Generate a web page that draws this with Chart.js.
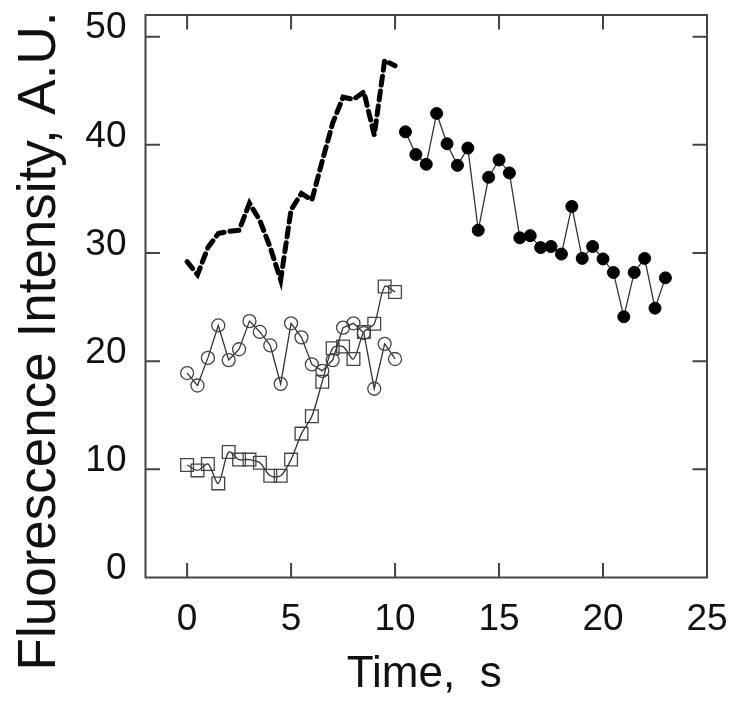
<!DOCTYPE html>
<html>
<head>
<meta charset="utf-8">
<script src="https://cdn.jsdelivr.net/npm/chart.js@4"></script>
<style>
  html, body { margin: 0; padding: 0; background: #fff; }
  #wrap { width: 734px; height: 703px; }
</style>
</head>
<body>
<div id="wrap"><canvas id="grafico"></canvas></div>
<script>
// Tiempos (s)
const timeA = [0, 0.5, 1, 1.5, 2, 2.5, 3, 3.5, 4, 4.5, 5, 5.5, 6, 6.5, 7, 7.5, 8, 8.5, 9, 9.5, 10];
const timeB = [10.5, 11, 11.5, 12, 12.5, 13, 13.5, 14, 14.5, 15, 15.5, 16, 16.5, 17, 17.5, 18, 18.5, 19, 19.5, 20, 20.5, 21, 21.5, 22, 22.5, 23];

// Series de intensidad
const dashedValues = [29.2, 28.0, 30.5, 31.8, 32.0, 32.1, 34.6, 33.0, 30.5, 27.5, 34.0, 35.5, 34.9, 38.5, 42.0, 44.4, 44.2, 44.9, 40.9, 47.8, 47.3];
const filledValues = [41.2, 39.1, 38.2, 42.9, 40.1, 38.1, 39.7, 32.1, 37.0, 38.6, 37.4, 31.4, 31.6, 30.5, 30.6, 29.9, 34.3, 29.5, 30.6, 29.45, 28.2, 24.1, 28.2, 29.5, 24.9, 27.7];
const circleValues = [18.9, 17.75, 20.3, 23.3, 20.1, 21.1, 23.7, 22.7, 21.45, 17.9, 23.5, 22.2, 19.7, 19.1, 20.1, 23.1, 23.5, 22.6, 17.45, 21.6, 20.2];
const squareValues = [10.4, 9.9, 10.5, 8.7, 11.6, 10.9, 10.9, 10.6, 9.4, 9.4, 10.9, 13.3, 14.9, 18.1, 21.2, 21.35, 20.2, 22.7, 23.45, 26.9, 26.4];

// Ticks y títulos
const xTicks = [0, 5, 10, 15, 20, 25];
const yTicks = [0, 10, 20, 30, 40, 50];
const xTitle = "Time,  s";
const yTitle = "Fluorescence Intensity, A.U.";

function toPoints(xs, ys) {
    return xs.map((x, i) => ({ x: x, y: ys[i] }));
}

const font = "'Liberation Sans', Arial, sans-serif";

// Marco con marcas hacia dentro en los cuatro lados, y títulos de ejes
const framePlugin = {
    id: "frameTicks",
    afterDraw(chart) {
        const ctx = chart.ctx;
        const a = chart.chartArea;
        const xs = chart.scales.x, ys = chart.scales.y;
        const len = 14.5;
        ctx.save();
        ctx.strokeStyle = "#444";
        ctx.lineWidth = 2;
        ctx.strokeRect(a.left, a.top, a.right - a.left, a.bottom - a.top);
        ctx.beginPath();
        xTicks.forEach(v => {
            const px = xs.getPixelForValue(v);
            if (px >= a.right - 1) return;
            ctx.moveTo(px, a.bottom); ctx.lineTo(px, a.bottom - len);
            ctx.moveTo(px, a.top); ctx.lineTo(px, a.top + len);
        });
        yTicks.forEach(v => {
            const py = ys.getPixelForValue(v);
            if (py >= a.bottom - 1) return;
            ctx.moveTo(a.left, py); ctx.lineTo(a.left + len, py);
            ctx.moveTo(a.right, py); ctx.lineTo(a.right - len, py);
        });
        ctx.stroke();

        // Títulos
        ctx.fillStyle = "#111";
        ctx.textAlign = "center";
        ctx.textBaseline = "alphabetic";
        ctx.font = "44px " + font;
        ctx.fillText(xTitle, (a.left + a.right) / 2 - 2, 687);
        ctx.translate(55, 341);
        ctx.rotate(-Math.PI / 2);
        ctx.font = "53px " + font;
        ctx.fillText(yTitle, 0, 0);
        ctx.restore();
    }
};

new Chart(document.getElementById("grafico"), {
    type: "scatter",
    data: {
        datasets: [
            {
                label: "dashed",
                data: toPoints(timeA, dashedValues),
                showLine: true,
                borderColor: "#000",
                borderWidth: 5,
                borderDash: [9, 6],
                borderCapStyle: "round",
                pointRadius: 0
            },
            {
                label: "filled",
                data: toPoints(timeB, filledValues),
                showLine: true,
                borderColor: "#333",
                borderWidth: 1.3,
                pointRadius: 6,
                pointBackgroundColor: "#000",
                pointBorderColor: "#000",
                pointBorderWidth: 1
            },
            {
                label: "circles",
                data: toPoints(timeA, circleValues),
                showLine: true,
                borderColor: "#333",
                borderWidth: 1.3,
                pointStyle: "circle",
                pointRadius: 6.5,
                pointBackgroundColor: "rgba(0,0,0,0)",
                pointBorderColor: "#444",
                pointBorderWidth: 1.3
            },
            {
                label: "squares",
                data: toPoints(timeA, squareValues),
                showLine: true,
                tension: 0.3,
                borderColor: "#333",
                borderWidth: 1.3,
                pointStyle: "rect",
                pointRadius: 9,
                pointBackgroundColor: "rgba(0,0,0,0)",
                pointBorderColor: "#444",
                pointBorderWidth: 1.3
            }
        ]
    },
    options: {
        responsive: true,
        maintainAspectRatio: false,
        animation: false,
        layout: { padding: { top: 15, right: 27, left: 0, bottom: 0 } },
        plugins: {
            legend: { display: false },
            tooltip: { enabled: false }
        },
        scales: {
            x: {
                type: "linear",
                min: -2,
                max: 25,
                grid: { display: false, drawTicks: false },
                border: { display: false },
                ticks: {
                    stepSize: 5,
                    includeBounds: false,
                    padding: 20,
                    maxRotation: 0,
                    color: "#111",
                    font: { family: font, size: 37 }
                },
                title: { display: false },
                afterFit(scale) {
                    scale.height = 125.5;
                    scale.paddingLeft = 0;
                    scale.paddingRight = 0;
                }
            },
            y: {
                type: "linear",
                min: 0,
                max: 52,
                grid: { display: false, drawTicks: false },
                border: { display: false },
                ticks: {
                    stepSize: 10,
                    includeBounds: false,
                    padding: 19,
                    labelOffset: -8.5,
                    color: "#111",
                    font: { family: font, size: 37 }
                },
                title: { display: false },
                afterFit(scale) {
                    scale.width = 145.5;
                    scale.paddingTop = 0;
                    scale.paddingBottom = 0;
                }
            }
        }
    },
    plugins: [framePlugin]
});
</script>
</body>
</html>
